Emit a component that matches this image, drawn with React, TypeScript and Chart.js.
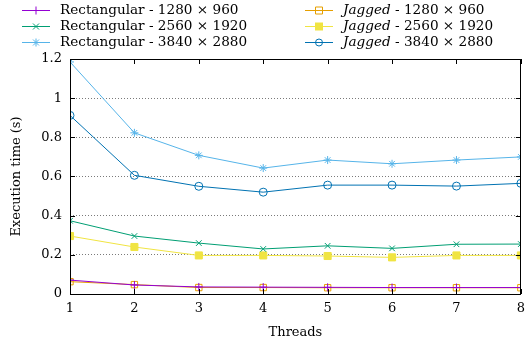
import React, { useEffect, useRef } from 'react';
import { Chart, registerables } from 'chart.js';

Chart.register(...registerables);

const threads = [1, 2, 3, 4, 5, 6, 7, 8];
const rect1280 = [0.071, 0.046, 0.036, 0.035, 0.034, 0.033, 0.033, 0.033];
const rect2560 = [0.374, 0.296, 0.26, 0.23, 0.246, 0.233, 0.254, 0.255];
const rect3840 = [1.185, 0.823, 0.708, 0.643, 0.684, 0.665, 0.684, 0.7];
const jag1280 = [0.063, 0.048, 0.033, 0.033, 0.032, 0.032, 0.032, 0.032];
const jag2560 = [0.296, 0.24, 0.197, 0.197, 0.194, 0.187, 0.197, 0.197];
const jag3840 = [0.912, 0.606, 0.55, 0.52, 0.556, 0.556, 0.551, 0.565];
const sizeLabels = ['1280 × 960', '2560 × 1920', '3840 × 2880'];
const yMin = 0;
const yMax = 1.2;
const yStep = 0.2;

const FONT = '"DejaVu Serif", "Liberation Serif", serif';
const FS = 13;
const LFS = 13.6;

type Mk = 'cross' | 'crossRot' | 'star' | 'rectOpen' | 'rectFilled' | 'circleOpen';

const series = [
  { kind: 'Rectangular', size: sizeLabels[0], data: rect1280, color: '#9400d3', marker: 'cross' as Mk },
  { kind: 'Rectangular', size: sizeLabels[1], data: rect2560, color: '#009e73', marker: 'crossRot' as Mk },
  { kind: 'Rectangular', size: sizeLabels[2], data: rect3840, color: '#56b4e9', marker: 'star' as Mk },
  { kind: 'Jagged', size: sizeLabels[0], data: jag1280, color: '#e69f00', marker: 'rectOpen' as Mk },
  { kind: 'Jagged', size: sizeLabels[1], data: jag2560, color: '#f0e442', marker: 'rectFilled' as Mk },
  { kind: 'Jagged', size: sizeLabels[2], data: jag3840, color: '#0072b2', marker: 'circleOpen' as Mk },
];

function styleFor(m: Mk) {
  switch (m) {
    case 'cross': return { pointStyle: 'cross', radius: 4, fill: false };
    case 'crossRot': return { pointStyle: 'crossRot', radius: 4, fill: false };
    case 'star': return { pointStyle: 'star', radius: 4, fill: false };
    case 'rectOpen': return { pointStyle: 'rect', radius: 4.5, fill: false };
    case 'rectFilled': return { pointStyle: 'rect', radius: 5, fill: true };
    default: return { pointStyle: 'circle', radius: 4, fill: false };
  }
}

function drawMarker(ctx: CanvasRenderingContext2D, m: Mk, x: number, y: number, color: string) {
  ctx.save();
  ctx.strokeStyle = color;
  ctx.fillStyle = color;
  ctx.lineWidth = 1;
  ctx.beginPath();
  const r = 4;
  if (m === 'cross') {
    ctx.moveTo(x - r, y); ctx.lineTo(x + r, y); ctx.moveTo(x, y - r); ctx.lineTo(x, y + r); ctx.stroke();
  } else if (m === 'crossRot') {
    const d = r * 0.75;
    ctx.moveTo(x - d, y - d); ctx.lineTo(x + d, y + d); ctx.moveTo(x - d, y + d); ctx.lineTo(x + d, y - d); ctx.stroke();
  } else if (m === 'star') {
    const d = r * 0.75;
    ctx.moveTo(x - r, y); ctx.lineTo(x + r, y); ctx.moveTo(x, y - r); ctx.lineTo(x, y + r);
    ctx.moveTo(x - d, y - d); ctx.lineTo(x + d, y + d); ctx.moveTo(x - d, y + d); ctx.lineTo(x + d, y - d); ctx.stroke();
  } else if (m === 'rectOpen') {
    ctx.rect(x - 3.5, y - 3.5, 7, 7); ctx.stroke();
  } else if (m === 'rectFilled') {
    ctx.rect(x - 4, y - 4, 8, 8); ctx.fill();
  } else {
    ctx.arc(x, y, 3.5, 0, Math.PI * 2); ctx.stroke();
  }
  ctx.restore();
}

const framePlugin = {
  id: 'frameAndLegend',
  afterDraw(chart: any) {
    const ctx: CanvasRenderingContext2D = chart.ctx;
    const { left, right, top, bottom } = chart.chartArea;
    const xs = chart.scales.x;
    const ys = chart.scales.y;
    ctx.save();
    ctx.strokeStyle = '#000';
    ctx.lineWidth = 1;
    ctx.beginPath();
    ctx.rect(Math.round(left) + 0.5, Math.round(top) + 0.5, Math.round(right - left) - 1, Math.round(bottom - top));
    ctx.stroke();
    const tl = 5;
    ctx.beginPath();
    threads.forEach((t) => {
      const px = Math.round(xs.getPixelForValue(t)) + 0.5;
      ctx.moveTo(px, bottom); ctx.lineTo(px, bottom - tl);
      ctx.moveTo(px, top); ctx.lineTo(px, top + tl);
    });
    for (let v = yMin; v <= yMax + 1e-9; v += yStep) {
      const py = Math.round(ys.getPixelForValue(v)) + 0.5;
      ctx.moveTo(left, py); ctx.lineTo(left + tl, py);
      ctx.moveTo(right, py); ctx.lineTo(right - tl, py);
    }
    ctx.stroke();

    // legend
    ctx.textBaseline = 'middle';
    series.forEach((s, i) => {
      const col = i < 3 ? 0 : 1;
      const row = i % 3;
      const x0 = col === 0 ? 22 : 305;
      const y = 10 + row * 16;
      ctx.strokeStyle = s.color;
      ctx.lineWidth = 1;
      ctx.beginPath();
      ctx.moveTo(x0, y + 0.5); ctx.lineTo(x0 + 28, y + 0.5);
      ctx.stroke();
      drawMarker(ctx, s.marker, x0 + 14, y + 0.5, s.color);
      ctx.fillStyle = '#000';
      let tx = x0 + 38;
      if (s.kind === 'Jagged') {
        ctx.font = `italic ${LFS}px ${FONT}`;
        ctx.fillText('Jagged', tx, y);
        tx += ctx.measureText('Jagged').width;
        ctx.font = `${LFS}px ${FONT}`;
        ctx.fillText(' - ' + s.size, tx, y);
      } else {
        ctx.font = `${LFS}px ${FONT}`;
        ctx.fillText(s.kind + ' - ' + s.size, tx, y);
      }
    });
    ctx.restore();
  },
};

export default function App() {
  const ref = useRef<HTMLCanvasElement | null>(null);
  useEffect(() => {
    document.body.style.margin = '0';
    if (!ref.current) return;
    const datasets = series.map((s) => {
      const st = styleFor(s.marker);
      return {
        label: s.kind + ' - ' + s.size,
        data: s.data.map((v, i) => ({ x: threads[i], y: v })),
        borderColor: s.color,
        backgroundColor: st.fill ? s.color : 'rgba(0,0,0,0)',
        pointBorderColor: s.color,
        pointBackgroundColor: st.fill ? s.color : 'rgba(0,0,0,0)',
        pointStyle: st.pointStyle,
        pointRadius: st.radius,
        pointBorderWidth: 1,
        borderWidth: 1,
        tension: 0,
      };
    });
    const chart = new Chart(ref.current, {
      type: 'line',
      data: { datasets },
      plugins: [framePlugin],
      options: {
        responsive: false,
        animation: false,
        devicePixelRatio: 1,
        layout: { autoPadding: false, padding: { top: 59, right: 2, left: 0, bottom: 0 } },
        plugins: { legend: { display: false }, tooltip: { enabled: false } },
        scales: {
          x: {
            type: 'linear',
            min: 1,
            max: 8,
            afterFit: (s: any) => { s.height = 47; },
            ticks: { stepSize: 1, color: '#000', font: { family: FONT, size: FS }, padding: 7 },
            grid: { display: false, drawTicks: false },
            border: { display: false },
            title: { display: true, text: 'Threads', color: '#000', font: { family: FONT, size: FS }, padding: { top: 0, bottom: 1 } },
          },
          y: {
            min: yMin,
            max: yMax,
            afterFit: (s: any) => { s.width = 70; },
            ticks: {
              stepSize: yStep,
              color: '#000',
              font: { family: FONT, size: FS },
              padding: 8,
              callback: (v: any) => String(Number(Number(v).toFixed(1))),
            },
            grid: {
              drawTicks: false,
              color: (c: any) => {
                const v = c.tick ? c.tick.value : 0;
                return Math.abs(v - yMin) < 1e-6 || Math.abs(v - yMax) < 1e-6 ? 'rgba(0,0,0,0)' : '#7a7a7a';
              },
              lineWidth: 1,
            },
            border: { display: false, dash: [1, 2] },
            title: { display: true, text: 'Execution time (s)', color: '#000', font: { family: FONT, size: FS }, padding: { top: 9, bottom: 0 } },
          },
        },
      } as any,
    });
    return () => chart.destroy();
  }, []);
  return (
    <div style={{ width: 532, height: 341 }}>
      <canvas ref={ref} width={532} height={341} style={{ display: 'block' }} />
    </div>
  );
}
